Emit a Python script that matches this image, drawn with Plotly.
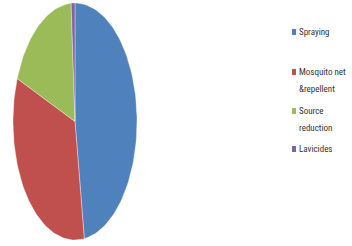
import numpy as np
import plotly.graph_objects as go

labels = [["Spraying"], ["Mosquito net", "&repellent"], ["Source", "reduction"], ["Lavicides"]]
names = ["Spraying", "Mosquito net &repellent", "Source reduction", "Lavicides"]
values = [47.6, 33.3, 18.1, 1.0]
colors = ["#4F81BD", "#C0504D", "#9BBB59", "#8064A2"]

W, H = 352, 246
fig = go.Figure()
total = sum(values)
start = 0.0
for v, c, n in zip(values, colors, names):
    a0 = start / total * 2 * np.pi
    a1 = (start + v) / total * 2 * np.pi
    t = np.linspace(a0, a1, max(4, int(200 * v / total)))
    xs = np.concatenate([[0], np.sin(t), [0]])
    ys = np.concatenate([[0], np.cos(t), [0]])
    fig.add_trace(go.Scatter(x=xs, y=ys, fill="toself", mode="lines",
                             fillcolor=c, line=dict(color="rgba(255,255,255,0.6)", width=0.6),
                             name=n, showlegend=False, hoverinfo="name"))
    start += v

# legend (manual, to match uneven spacing)
leg_y = [32, 72, 111, 149]  # pixel centres of first lines
line_h = 17
for lines, c, yc in zip(labels, colors, leg_y):
    fig.add_shape(type="rect", xref="paper", yref="paper",
                  x0=292 / W, x1=296 / W, y0=1 - (yc + 3) / H, y1=1 - (yc - 3) / H,
                  fillcolor=c, line=dict(width=0))
    for k, txt in enumerate(lines):
        fig.add_annotation(xref="paper", yref="paper", x=297 / W, y=1 - (yc + k * line_h) / H,
                           xanchor="left", yanchor="middle", text=txt, showarrow=False,
                           font=dict(family="Roboto Condensed, sans-serif",
                                     size=9, color="#333333"))

fig.update_layout(
    width=W, height=H, margin=dict(l=0, r=0, t=0, b=0),
    paper_bgcolor="white", plot_bgcolor="white",
    xaxis=dict(domain=[13 / W, 137 / W], range=[-1, 1], visible=False, fixedrange=True),
    yaxis=dict(domain=[(H - 240) / H, (H - 3) / H], range=[-1, 1], visible=False, fixedrange=True),
)
fig.write_html("out.html")
